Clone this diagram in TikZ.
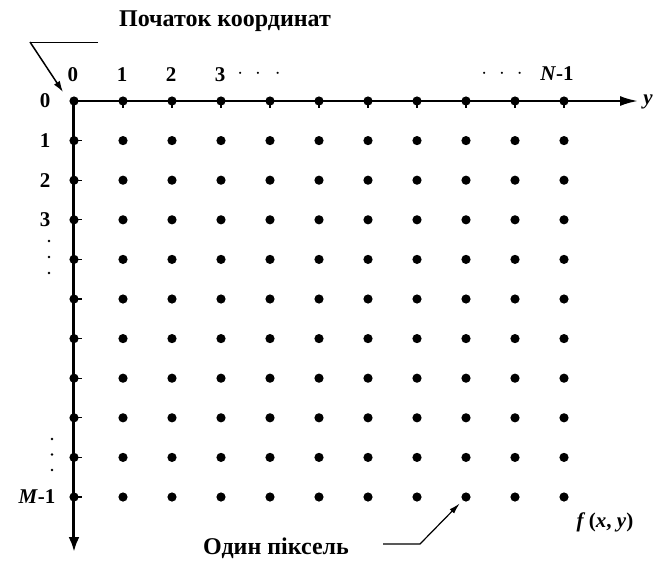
\documentclass[tikz,border=0pt]{standalone}
\usepackage{fontspec}
\setmainfont{Liberation Serif}
\usetikzlibrary{arrows.meta}
\usetikzlibrary{math}

\begin{document}
\begin{tikzpicture}[x=1pt,y=1pt,
  num/.style={font=\bfseries\fontsize{21}{24}\selectfont},
  caption/.style={font=\bfseries\fontsize{24}{28}\selectfont}]
\tikzmath{
\dx=49;
\dy=39.6;
\N=10;
\M=10;
}
\useasboundingbox (-74,101) rectangle (583,-462);

% pixels
\foreach \i in {0,...,\M}
  \foreach \j in {0,...,\N}{
    \coordinate (p-\i-\j) at (\j*\dx,-\i*\dy);
    \fill (p-\i-\j) circle (4.6pt);
  }

% axes
\coordinate (O) at (0,0);
\coordinate (Y) at (564,0);
\coordinate (X) at (0,-451);
\draw[-{Latex[length=18pt,width=10pt]}, line width=2.2pt] (O) -- (Y);
\draw[-{Latex[length=15pt,width=11pt]}, line width=3pt] (O) -- (X);
\foreach \j in {1,...,\N}
  \draw[line width=1.3pt] (p-0-\j) -- +(0,-7);
\foreach \i in {1,...,\M}
  \draw[line width=1.3pt] (p-\i-0) -- +(8,0);

% column and row numbers
\foreach \j in {0,...,3}
  \node[num] (c-\j) at (\j*\dx-1,26) {\j};
\node[num] (cdots) at (185,27) {$\cdot$\hspace{12pt}$\cdot$\hspace{14pt}$\cdot$};
\node[num] (ndots) at (428,27) {$\cdot$\hspace{12pt}$\cdot$\hspace{12pt}$\cdot$};
\node[num] (cN) at (483,27) {\textit{N}-1};
\foreach \i in {0,...,3}
  \node[num] (r-\i) at (-29,-\i*\dy) {\i};
\foreach \k in {0,1,2}{
  \fill (-25,-140-\k*16) circle (1.4pt);
  \fill (-22,-338-\k*15.5) circle (1.4pt);
}
\node[num, anchor=east] (rM) at (-15,-\M*\dy) {\textit{M}-1};

% labels
\node[caption] (origin) at (151,80) {Початок координат};
\coordinate (t1) at (-44,59);
\coordinate (t2) at (24,59);
\coordinate (t3) at (-11,9);
\draw[line width=1pt] (t2) -- (t1);
\draw[-{Latex[length=11pt,width=7pt]}, line width=1.5pt] (t1) -- (t3);

\node[caption] (pixel) at (202,-447) {Один піксель};
\coordinate (l1) at (309,-443);
\coordinate (l2) at (346,-443);
\draw[-{Latex[length=11pt,width=6pt]}, line width=1.2pt, shorten >=9pt] (l1) -- (l2) -- (p-10-8);

\node[num] (fxy) at (531,-421) {\textit{f}\,(\textit{x}, \textit{y})};
\node[num] (ylab) at (574,-1) {\textit{y}};
\end{tikzpicture}
\end{document}
